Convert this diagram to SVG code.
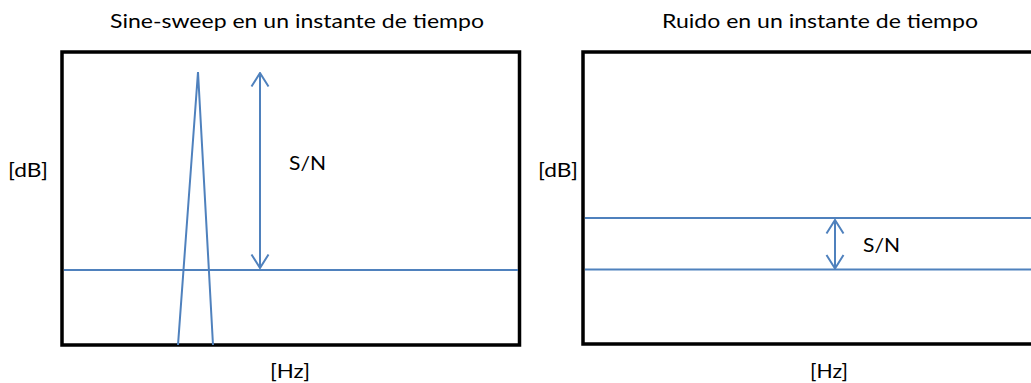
<svg xmlns="http://www.w3.org/2000/svg" width="1031" height="383" viewBox="0 0 1031 383">
<style>
.box{fill:none;stroke:#000;stroke-width:3.5}
.ln{fill:none;stroke:#4F81BD;stroke-width:2}
.t{font-family:Lato,"Liberation Sans",Arial,sans-serif;font-size:20px;fill:#000}
</style>
<defs>
<marker id="ah" viewBox="0 0 20 20" refX="19" refY="10" markerWidth="20" markerHeight="20" markerUnits="userSpaceOnUse" orient="auto-start-reverse">
<path d="M5.5,1.5 L19,10 L5.5,18.5" fill="none" stroke="#4F81BD" stroke-width="2"/>
</marker>
</defs>
<rect width="1031" height="383" fill="#fff"/>
<g id="plot-sine">
<rect class="box" x="62" y="52" width="457.5" height="293"/>
<text class="t" x="110" y="28" textLength="374" lengthAdjust="spacingAndGlyphs">Sine-sweep en un instante de tiempo</text>
<text class="t" x="8" y="177" textLength="40" lengthAdjust="spacingAndGlyphs">[dB]</text>
<text class="t" x="270" y="378" textLength="40" lengthAdjust="spacingAndGlyphs">[Hz]</text>
<text class="t" x="289" y="170" textLength="37" lengthAdjust="spacingAndGlyphs">S/N</text>
</g>
<g id="plot-ruido">
<rect class="box" x="583" y="52" width="470" height="292"/>
<text class="t" x="662" y="28" textLength="316" lengthAdjust="spacingAndGlyphs">Ruido en un instante de tiempo</text>
<text class="t" x="538" y="177" textLength="40" lengthAdjust="spacingAndGlyphs">[dB]</text>
<text class="t" x="810" y="378" textLength="38" lengthAdjust="spacingAndGlyphs">[Hz]</text>
<text class="t" x="863" y="252" textLength="37" lengthAdjust="spacingAndGlyphs">S/N</text>
</g>
<g id="connectors">
<polyline class="ln" points="178,345 198,72 213,345"/>
<line class="ln" x1="64" y1="270" x2="518" y2="270"/>
<line class="ln" x1="260" y1="73" x2="260" y2="268" marker-start="url(#ah)" marker-end="url(#ah)"/>
<line class="ln" x1="585" y1="218" x2="1031" y2="218"/>
<line class="ln" x1="585" y1="269.5" x2="1031" y2="269.5"/>
<line class="ln" x1="835" y1="220" x2="835" y2="268.5" marker-start="url(#ah)" marker-end="url(#ah)"/>
</g>
</svg>
